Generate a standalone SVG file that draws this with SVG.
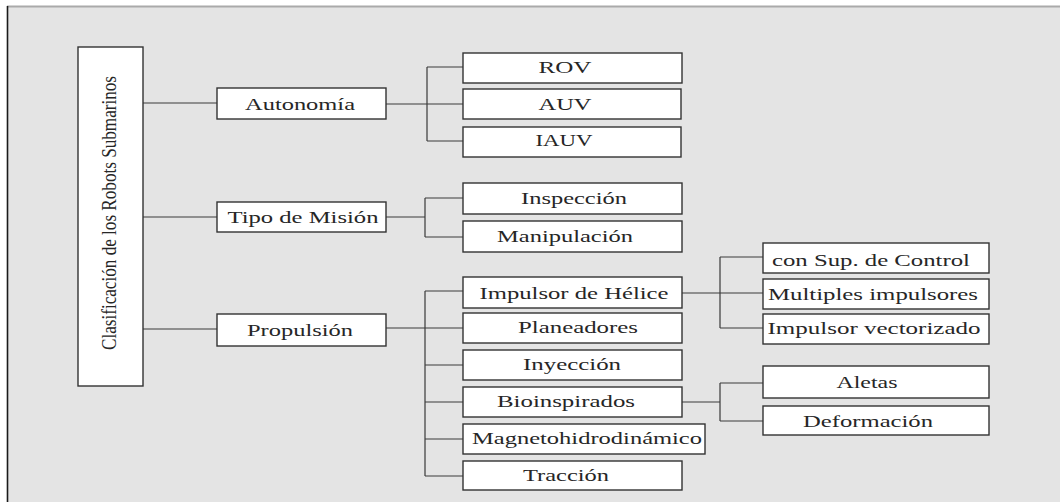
<svg xmlns="http://www.w3.org/2000/svg" width="1060" height="502" viewBox="0 0 1060 502">
<style>
.box{fill:#ffffff;stroke:#333333;stroke-width:1.4}
text{font-family:'Liberation Serif','Times New Roman','DejaVu Serif',serif;font-size:17px;fill:#262626;text-anchor:middle}
text.big{font-size:22px}
.c{fill:none;stroke:#3a3a3a;stroke-width:1.2}
</style>
<rect x="0" y="0" width="1060" height="502" fill="#ffffff"/>
<rect x="7" y="6" width="1053" height="496" fill="#e4e4e4"/>
<line x1="7" y1="6.5" x2="1060" y2="6.5" stroke="#aaaaaa" stroke-width="2"/>
<line x1="7.5" y1="6" x2="7.5" y2="502" stroke="#1a1a1a" stroke-width="1.6"/>

<g id="connectors">
<path class="c" d="M143 103H217M143 217H217M143 329H217"/>
<path class="c" d="M386 104H427M427 67V141M427 67H463M427 104H463M427 141H463"/>
<path class="c" d="M386 217H425M425 198V237M425 198H463M425 237H463"/>
<path class="c" d="M386 328H463M425 291V476M425 291H463M425 365H463M425 402H463M425 439H463M425 476H463"/>
<path class="c" d="M682 293H720M720 257V328M720 257H763M720 293H763M720 328H763"/>
<path class="c" d="M682 402H720M720 383V421M720 383H763M720 421H763"/>
</g>

<g id="root">
<rect class="box" x="78" y="47" width="65" height="339"/>
<text class="big" transform="translate(116,213) rotate(-90)" textLength="274" lengthAdjust="spacingAndGlyphs">Clasificación de los Robots Submarinos</text>
</g>

<g id="autonomia"><rect class="box" x="217" y="88" width="169" height="31"/><text x="300" y="110" textLength="110" lengthAdjust="spacingAndGlyphs">Autonomía</text></g>
<g id="tipo"><rect class="box" x="217" y="202" width="169" height="30"/><text x="303" y="223" textLength="151" lengthAdjust="spacingAndGlyphs">Tipo de Misión</text></g>
<g id="propulsion"><rect class="box" x="217" y="314" width="169" height="32"/><text x="300" y="336" textLength="106" lengthAdjust="spacingAndGlyphs">Propulsión</text></g>

<g id="rov"><rect class="box" x="463" y="53" width="219" height="30"/><text x="565" y="73" textLength="53" lengthAdjust="spacingAndGlyphs">ROV</text></g>
<g id="auv"><rect class="box" x="463" y="89" width="218" height="30"/><text x="565" y="110" textLength="53" lengthAdjust="spacingAndGlyphs">AUV</text></g>
<g id="iauv"><rect class="box" x="463" y="127" width="218" height="30"/><text x="564" y="146" textLength="57" lengthAdjust="spacingAndGlyphs">IAUV</text></g>

<g id="inspeccion"><rect class="box" x="463" y="183" width="219" height="31"/><text x="574" y="204" textLength="106" lengthAdjust="spacingAndGlyphs">Inspección</text></g>
<g id="manipulacion"><rect class="box" x="463" y="221" width="219" height="31"/><text x="565" y="242" textLength="136" lengthAdjust="spacingAndGlyphs">Manipulación</text></g>

<g id="helice"><rect class="box" x="463" y="277" width="219" height="31"/><text x="574" y="299" textLength="189" lengthAdjust="spacingAndGlyphs">Impulsor de Hélice</text></g>
<g id="planeadores"><rect class="box" x="463" y="313" width="219" height="30"/><text x="578" y="333" textLength="120" lengthAdjust="spacingAndGlyphs">Planeadores</text></g>
<g id="inyeccion"><rect class="box" x="463" y="350" width="219" height="30"/><text x="572" y="370" textLength="98" lengthAdjust="spacingAndGlyphs">Inyección</text></g>
<g id="bioinspirados"><rect class="box" x="463" y="387" width="219" height="30"/><text x="566" y="407" textLength="138" lengthAdjust="spacingAndGlyphs">Bioinspirados</text></g>
<g id="magneto"><rect class="box" x="463" y="424" width="242" height="30"/><text x="587" y="444" textLength="230" lengthAdjust="spacingAndGlyphs">Magnetohidrodinámico</text></g>
<g id="traccion"><rect class="box" x="463" y="461" width="219" height="29"/><text x="566" y="481" textLength="86" lengthAdjust="spacingAndGlyphs">Tracción</text></g>

<g id="supcontrol"><rect class="box" x="763" y="243" width="226" height="30"/><text x="871" y="266" textLength="198" lengthAdjust="spacingAndGlyphs">con Sup. de Control</text></g>
<g id="multiples"><rect class="box" x="763" y="279" width="226" height="30"/><text x="873" y="300" textLength="210" lengthAdjust="spacingAndGlyphs">Multiples impulsores</text></g>
<g id="vectorizado"><rect class="box" x="763" y="314" width="226" height="30"/><text x="874" y="334" textLength="213" lengthAdjust="spacingAndGlyphs">Impulsor vectorizado</text></g>

<g id="aletas"><rect class="box" x="763" y="366" width="226" height="32"/><text x="867" y="388" textLength="61" lengthAdjust="spacingAndGlyphs">Aletas</text></g>
<g id="deformacion"><rect class="box" x="763" y="406" width="226" height="29"/><text x="868" y="427" textLength="130" lengthAdjust="spacingAndGlyphs">Deformación</text></g>
</svg>
